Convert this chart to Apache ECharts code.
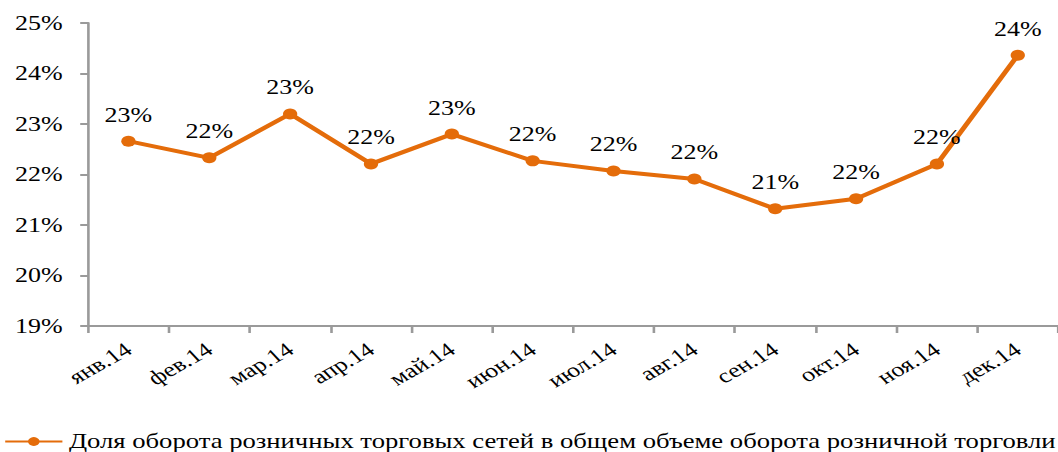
<!DOCTYPE html>
<html>
<head>
<meta charset="utf-8">
<script src="https://cdn.jsdelivr.net/npm/echarts@6/dist/echarts.min.js"></script>
<style>
  html, body { margin: 0; padding: 0; background: #fff; overflow: hidden; }
  /* исходная картинка растянута по горизонтали примерно в 1.3 раза */
  #chart { width: 814px; height: 452px; transform: scaleX(1.3); transform-origin: 0 0; }
</style>
</head>
<body>
<div id="chart"></div>
<script>
// месяцы
var months = ['янв.14', 'фев.14', 'мар.14', 'апр.14', 'май.14', 'июн.14',
  'июл.14', 'авг.14', 'сен.14', 'окт.14', 'ноя.14', 'дек.14'];
// доля оборота сетей, %
var shareValues = [22.66, 22.33, 23.2, 22.21, 22.8, 22.27, 22.07, 21.91, 21.32, 21.52, 22.21, 24.36];
var seriesName = 'Доля оборота розничных торговых сетей в общем объеме оборота розничной торговли';

var font = '"Liberation Serif", "Times New Roman", serif';
var orange = '#E46C0A';
var axisGray = '#9a9a9a';

var chart = echarts.init(document.getElementById('chart'), null, { renderer: 'svg' });
chart.setOption({
  animation: false,
  grid: { left: 67.7, top: 23, width: 748.5, height: 303 },
  legend: {
    data: [seriesName],
    left: 3,
    top: 431,
    padding: 0,
    itemWidth: 44,
    itemHeight: 11,
    itemGap: 3,
    textStyle: { fontFamily: font, fontSize: 20.5, color: '#000' }
  },
  xAxis: {
    type: 'category',
    data: months,
    axisLine: { lineStyle: { color: axisGray, width: 2 } },
    axisTick: { show: true, length: 7, lineStyle: { color: axisGray, width: 2 } },
    axisLabel: {
      rotate: 36,
      margin: 21,
      interval: 0,
      fontFamily: font,
      fontSize: 20,
      color: '#000'
    }
  },
  yAxis: {
    type: 'value',
    min: 19,
    max: 25,
    interval: 1,
    axisLine: { show: true, lineStyle: { color: axisGray, width: 2 } },
    axisTick: { show: true, length: 6, lineStyle: { color: axisGray, width: 2 } },
    splitLine: { show: false },
    axisLabel: {
      margin: 19.5,
      fontFamily: font,
      fontSize: 20,
      color: '#000',
      formatter: '{value}%'
    }
  },
  series: [{
    name: seriesName,
    type: 'line',
    data: shareValues,
    symbol: 'circle',
    symbolSize: 11,
    itemStyle: { color: orange },
    lineStyle: { color: orange, width: 4 },
    label: {
      show: true,
      position: 'top',
      distance: 11,
      fontFamily: font,
      fontSize: 20,
      color: '#000',
      formatter: function (p) { return Math.round(p.value) + '%'; }
    }
  }]
});
</script>
</body>
</html>
